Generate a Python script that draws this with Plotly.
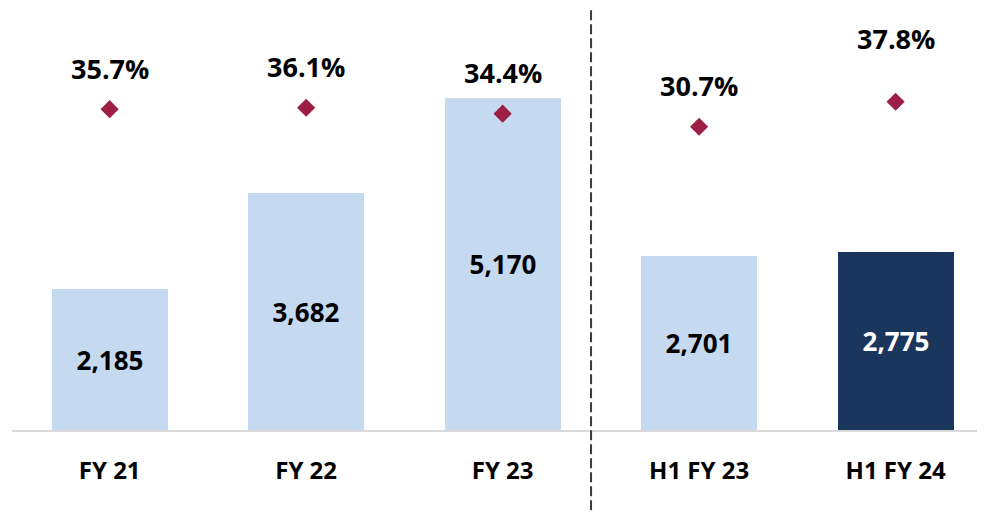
import plotly.graph_objects as go

categories = ["FY 21", "FY 22", "FY 23", "H1 FY 23", "H1 FY 24"]
values = [2185, 3682, 5170, 2701, 2775]
margins_pct = [35.7, 36.1, 34.4, 30.7, 37.8]

LIGHT = "#C5D9F0"
DARK = "#1B365D"
MARK = "#9E1F46"
FONT = "Open Sans"

bar_colors = [LIGHT, LIGHT, LIGHT, LIGHT, DARK]
text_colors = ["#000000", "#000000", "#000000", "#000000", "#FFFFFF"]
xs = list(range(len(categories)))

fig = go.Figure()
fig.add_trace(go.Bar(
    x=xs, y=values, width=0.59,
    marker=dict(color=bar_colors, line=dict(width=0)),
    texttemplate="%{y:,}", textposition="inside", insidetextanchor="middle",
    textangle=0,
    textfont=dict(family=FONT, size=26, color=text_colors, weight="bold"),
    cliponaxis=False, showlegend=False, hoverinfo="skip",
))
fig.add_trace(go.Scatter(
    x=xs, y=margins_pct, yaxis="y2", mode="markers",
    marker=dict(symbol="diamond", size=14, color=MARK),
    showlegend=False, hoverinfo="skip",
))

# percentage labels above the markers
label_lift = {4: 63}
for i, (c, v) in enumerate(zip(xs, margins_pct)):
    fig.add_annotation(
        x=c, y=v, xref="x", yref="y2", text=f"{v:.1f}%", showarrow=False,
        yanchor="middle", yshift=label_lift.get(i, 41),
        font=dict(family=FONT, size=27, color="#000000", weight="bold"),
    )

# dashed separator between annual and half-year figures
fig.add_shape(type="line", xref="x", yref="paper", x0=2.45, x1=2.45,
              y0=-0.19, y1=1.0,
              line=dict(color="#3A3A3A", width=2, dash="10px,4px"))

fig.update_layout(
    width=977, height=504,
    margin=dict(l=4, r=0, t=0, b=82),
    paper_bgcolor="white", plot_bgcolor="white",
    bargap=0,
    xaxis=dict(
        range=[-0.497, 4.455], tickmode="array", tickvals=xs, ticktext=categories,
        showline=True, linecolor="#D9D9D9", linewidth=2, showgrid=False,
        zeroline=False, ticks="", ticklabelstandoff=18,
        tickfont=dict(family=FONT, size=24, color="#000000", weight="bold"),
    ),
    yaxis=dict(range=[0, 6562], visible=False, showgrid=False, zeroline=False),
    yaxis2=dict(range=[-55.45, 64.43], overlaying="y", side="right",
                visible=False, showgrid=False, zeroline=False),
)

fig.write_html("out.html")
